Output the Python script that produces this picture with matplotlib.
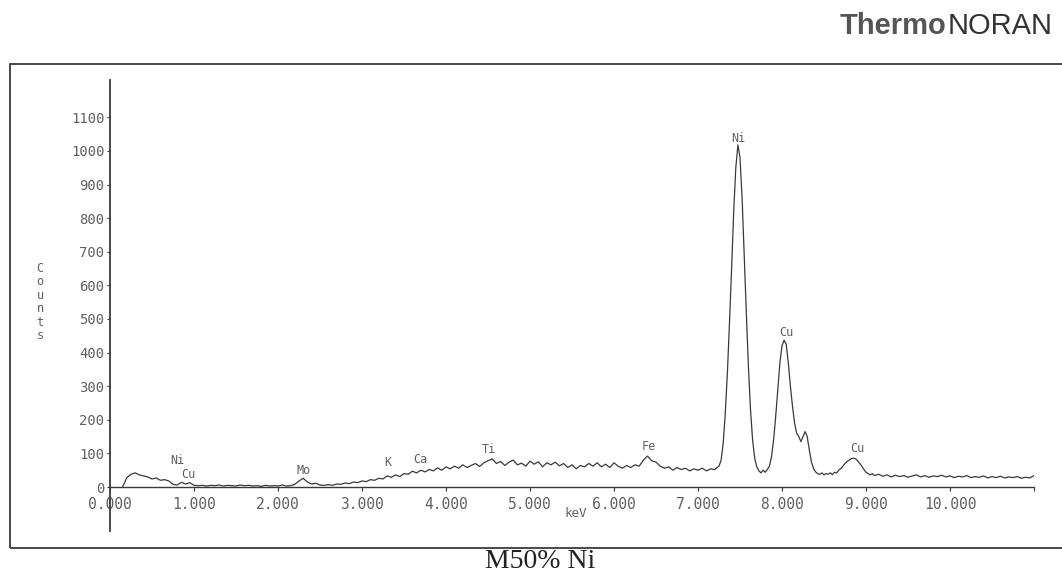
import matplotlib.pyplot as plt
import numpy as np
from matplotlib.patches import Rectangle

## spectrum (counts per channel)
# 0.15 .. 7.15 keV, every 0.05 keV
counts_low = [0, 28, 38, 42, 36, 33, 30, 24, 27, 20, 22, 18, 8, 6, 14, 9, 13, 5, 4, 5,
              3, 5, 4, 6, 3, 5, 4, 3, 6, 4, 5, 3, 4, 2, 5, 3, 4, 3, 6, 3,
              4, 8, 18, 26, 15, 9, 11, 6, 5, 7, 5, 9, 8, 12, 10, 15, 13, 18, 16, 22,
              20, 26, 24, 33, 29, 36, 31, 40, 38, 47, 42, 50, 45, 52, 48, 57, 50, 60, 54, 62,
              56, 66, 58, 64, 70, 61, 72, 78, 84, 70, 76, 64, 74, 80, 66, 71, 62, 77, 68, 75,
              60, 72, 66, 74, 63, 70, 58, 66, 54, 64, 60, 70, 62, 72, 60, 68, 58, 72, 62, 56,
              64, 58, 66, 62, 80, 92, 78, 74, 62, 56, 60, 50, 58, 52, 56, 48, 54, 50, 56, 48,
              54]
# 7.20 .. 9.075 keV, every 0.025 keV (Ni / Cu K lines)
counts_peaks = [52, 58, 62, 80, 130, 220, 340, 490, 650, 820, 950, 1018, 980, 860, 690, 520,
                360, 230, 140, 85, 60, 48, 42, 50, 44, 52, 62, 90, 140, 210, 290, 370,
                420, 437, 425, 370, 300, 240, 190, 160, 150, 135, 150, 165, 150, 110, 75, 55,
                45, 40, 38, 42, 36, 40, 38, 42, 37, 44, 42, 50, 55, 62, 70, 76, 80, 84,
                86, 84, 78, 70, 62, 52, 44, 40, 36, 40]
# 9.10 .. 11.00 keV, every 0.05 keV
counts_high = [34, 38, 32, 36, 30, 35, 31, 34, 29, 33, 36, 30, 34, 29, 33, 31, 35, 30, 33, 28,
               32, 30, 34, 28, 31, 29, 33, 27, 31, 28, 32, 27, 30, 28, 31, 26, 29, 27, 34]

kev = np.r_[0.15 + 0.05 * np.arange(len(counts_low)),
            7.20 + 0.025 * np.arange(len(counts_peaks)),
            9.10 + 0.05 * np.arange(len(counts_high))]
counts = np.r_[counts_low, counts_peaks, counts_high]

# line markers: (label, keV, counts)
peak_names = ['Ni', 'Cu', 'Mo', 'K', 'Ca', 'Ti', 'Fe', 'Ni', 'Cu', 'Cu']
peak_kev = [0.80, 0.93, 2.30, 3.31, 3.70, 4.51, 6.41, 7.48, 8.05, 8.90]
peak_cnt = [80, 36, 48, 72, 83, 113, 120, 1038, 461, 116]

x_ticks = np.arange(0, 12)
x_labels = ['%.3f' % t for t in x_ticks[:-1]] + ['']
y_ticks = np.arange(0, 1200, 100)

ink = '#3a3a3a'
soft = '#606060'
mono = 'DejaVu Sans Mono'

fig = plt.figure(figsize=(10.62, 5.76), dpi=100)
ax = fig.add_axes([110 / 1062, 45.3 / 576, 924 / 1062, 450.3 / 576])
ax.plot(kev, counts, color=ink, lw=0.9)
ax.set_xlim(0, 11)
ax.set_ylim(-130, 1210)

for s in ('top', 'right'):
    ax.spines[s].set_visible(False)
ax.spines['left'].set_color(ink)
ax.spines['left'].set_linewidth(1.3)
ax.spines['bottom'].set_position(('data', 0))
ax.spines['bottom'].set_color(ink)
ax.spines['bottom'].set_linewidth(1.0)

ax.set_xticks(x_ticks)
ax.set_xticklabels(x_labels, family=mono, fontsize=10.5, color=soft)
ax.set_yticks(y_ticks)
ax.set_yticklabels([str(t) for t in y_ticks], family=mono, fontsize=10, color=soft)
ax.tick_params(axis='x', direction='out', length=3, color=ink, pad=4)
ax.tick_params(axis='y', direction='out', length=2, color=ink, pad=2)

for name, e, c in zip(peak_names, peak_kev, peak_cnt):
    ax.text(e, c, name, ha='center', va='center', family=mono, fontsize=8.5, color=soft)

ax.text(5.55, -80, 'keV', ha='center', va='center', family=mono, fontsize=9, color=soft)
fig.text(40 / 1062, 1 - 302 / 576, 'C\no\nu\nn\nt\ns', ha='center', va='center',
         family=mono, fontsize=8.5, color=soft, linespacing=1.05)

# scanned page furniture
fig.add_artist(Rectangle((10 / 1062, 1 - 548 / 576), 1.1, (548 - 64) / 576,
                         transform=fig.transFigure, fill=False, ec=ink, lw=1.3))
fig.text(946 / 1062, 1 - 26 / 576, 'Thermo', ha='right', va='center',
         family='Liberation Sans', weight='bold', fontsize=21, color='#555555')
fig.text(948 / 1062, 1 - 26 / 576, 'NORAN', ha='left', va='center',
         family='Liberation Sans', fontsize=21, color='#333333')
fig.text(540 / 1062, 1 - 562 / 576, 'M50% Ni', ha='center', va='center',
         family='Liberation Serif', fontsize=20, color='#222222')

fig.savefig('out.png', dpi=100)
